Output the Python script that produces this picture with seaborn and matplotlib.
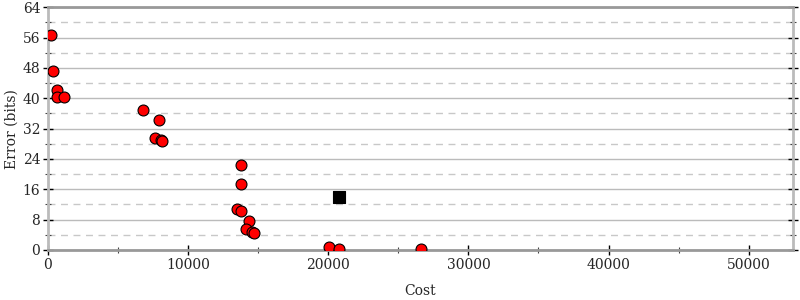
import matplotlib
matplotlib.use("Agg")
import matplotlib.pyplot as plt
import seaborn as sns
import pandas as pd
from matplotlib.ticker import MultipleLocator

cost = [200, 380, 620, 620, 1140, 6750, 7940, 7650, 8050, 8170,
        13760, 13800, 13520, 13760, 14320, 14160, 14590, 14680,
        20050, 20790, 26610]
error = [56.7, 47.1, 42.1, 40.2, 40.2, 36.9, 34.2, 29.6, 29.1, 28.8,
         22.3, 17.5, 10.8, 10.3, 7.6, 5.6, 4.7, 4.6,
         0.7, 0.3, 0.3]
init_cost = [20740]
init_error = [14.0]

sns.set_theme(style="white")
plt.rcParams['font.family'] = ['DejaVu Serif']

fig = plt.figure(figsize=(8, 3), dpi=100)
ax = fig.add_axes([0.06, 0.1667, 0.931, 0.8093])

df = pd.DataFrame({"Cost": cost, "Error": error})
df2 = pd.DataFrame({"Cost": init_cost, "Error": init_error})

sns.scatterplot(data=df, x="Cost", y="Error", ax=ax, color="#ff0000",
                edgecolor="black", linewidth=0.8, s=62, zorder=3)
sns.scatterplot(data=df2, x="Cost", y="Error", ax=ax, color="black",
                marker="s", edgecolor="black", linewidth=0.8, s=80, zorder=3)

ax.set_xlim(0, 53150)
ax.set_ylim(0, 64)
ax.yaxis.set_major_locator(MultipleLocator(8))
ax.yaxis.set_minor_locator(MultipleLocator(4))
ax.xaxis.set_major_locator(MultipleLocator(10000))
ax.xaxis.set_minor_locator(MultipleLocator(5000))

ax.grid(which="major", axis="y", color="#bbbbbb", linestyle="-", linewidth=1)
ax.grid(which="minor", axis="y", color="#c8c8c8", linestyle=(0, (5, 4)), linewidth=1)
ax.set_axisbelow(True)

ax.spines["left"].set_color("#bbbbbb")
ax.spines["left"].set_linewidth(2)
ax.spines["right"].set_color("#bbbbbb")
ax.spines["right"].set_linewidth(2)
ax.spines["top"].set_color("#999999")
ax.spines["top"].set_linewidth(2)
ax.spines["bottom"].set_color("#999999")
ax.spines["bottom"].set_linewidth(2)

ax.tick_params(which="major", axis="both", direction="inout", length=7,
               width=1, color="black", labelsize=10, bottom=True, left=True,
               right=True, pad=2)
ax.tick_params(which="minor", axis="both", direction="inout", length=4,
               width=0.8, color="#444444", bottom=True, left=True, right=True)

ax.set_xlabel("Cost", fontsize=10, labelpad=9)
ax.set_ylabel("Error (bits)", fontsize=10, labelpad=3)

fig.savefig("out.png", dpi=100)
